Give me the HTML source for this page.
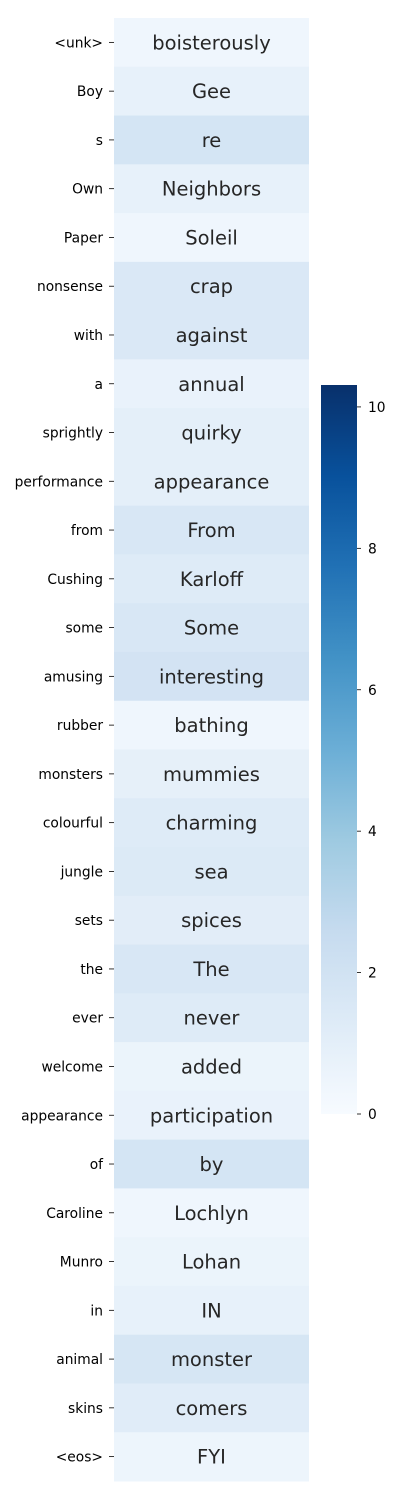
<!DOCTYPE html>
<html><head><meta charset="utf-8"><style>
html,body{margin:0;padding:0;background:#fff;}
svg{display:block;font-family:"DejaVu Sans","Liberation Sans",sans-serif;}
</style></head><body>
<svg id="chart" width="400" height="1500"></svg>
<script>
const rowLabels = ["<unk>","Boy","s","Own","Paper","nonsense","with","a","sprightly","performance","from","Cushing","some","amusing","rubber","monsters","colourful","jungle","sets","the","ever","welcome","appearance","of","Caroline","Munro","in","animal","skins","<eos>"];
const cellWords = ["boisterously","Gee","re","Neighbors","Soleil","crap","against","annual","quirky","appearance","From","Karloff","Some","interesting","bathing","mummies","charming","sea","spices","The","never","added","participation","by","Lochlyn","Lohan","IN","monster","comers","FYI"];
const values = [0.4,0.8,1.8,0.8,0.4,1.5,1.5,0.7,1.0,1.0,1.6,1.3,1.6,1.9,0.4,0.9,1.3,1.4,1.1,1.6,1.3,0.6,0.7,1.8,0.4,0.6,0.8,1.7,1.2,0.5];
const cbTicks = [0,2,4,6,8,10];
const vmin = 0, vmax = 10.31;

const NS = "http://www.w3.org/2000/svg";
const svg = document.getElementById("chart");
const stops = ["#f7fbff","#deebf7","#c6dbef","#9ecae1","#6baed6","#4292c6","#2171b5","#08519c","#08306b"];
function hex(c){return [1,3,5].map(i=>parseInt(c.substr(i,2),16));}
function cmap(v){
  let t=Math.max(0,Math.min(1,(v-vmin)/(vmax-vmin)))*(stops.length-1);
  let i=Math.min(stops.length-2,Math.floor(t)), f=t-i;
  const a=hex(stops[i]), b=hex(stops[i+1]);
  return "rgb("+a.map((x,k)=>Math.round(x+(b[k]-x)*f)).join(",")+")";
}
function el(tag,attrs,parent){const e=document.createElementNS(NS,tag);for(const k in attrs)e.setAttribute(k,attrs[k]);(parent||svg).appendChild(e);return e;}

const x0=114, x1=309, y0=18, y1=1481;
const rh=(y1-y0)/rowLabels.length;
const yPos = i => y0 + i*rh;

rowLabels.forEach((lab,i)=>{
  const r=el("rect",{x:x0,y:yPos(i),width:x1-x0,height:rh+0.5,fill:cmap(values[i])});
  
  
  const t=el("text",{x:(x0+x1)/2,y:yPos(i)+rh/2+7,"text-anchor":"middle","font-size":"19.5",fill:"#262626"});
  t.textContent=cellWords[i];
  
  
  const tk=el("line",{x1:x0-5,x2:x0,y1:yPos(i)+rh/2,y2:yPos(i)+rh/2,stroke:"#000","stroke-width":"0.8"});
  
  
  const yl=el("text",{x:x0-11,y:yPos(i)+rh/2+5,"text-anchor":"end","font-size":"13.8",fill:"#000"});
  yl.textContent=lab;
  
  
});

const cbx=321, cbw=36, cbTop=385, cbBot=1114;
const cbY = v => cbBot - (v-vmin)/(vmax-vmin)*(cbBot-cbTop);
const defs=el("defs",{});
const grad=el("linearGradient",{id:"cbg",x1:"0",y1:"1",x2:"0",y2:"0"},defs);
stops.forEach((c,i)=>el("stop",{offset:(i/(stops.length-1)),"stop-color":c},grad));
const cb=el("rect",{x:cbx,y:cbTop,width:cbw,height:cbBot-cbTop,fill:"url(#cbg)"});


cbTicks.forEach(v=>{
  const y=cbY(v);
  const l=el("line",{x1:cbx+cbw,x2:cbx+cbw+4,y1:y,y2:y,stroke:"#000","stroke-width":"0.8"});
  
  
  const t=el("text",{x:cbx+cbw+11,y:y+5,"font-size":"13.8",fill:"#000"});
  t.textContent=v;
  
  
});
</script>
</body></html>
